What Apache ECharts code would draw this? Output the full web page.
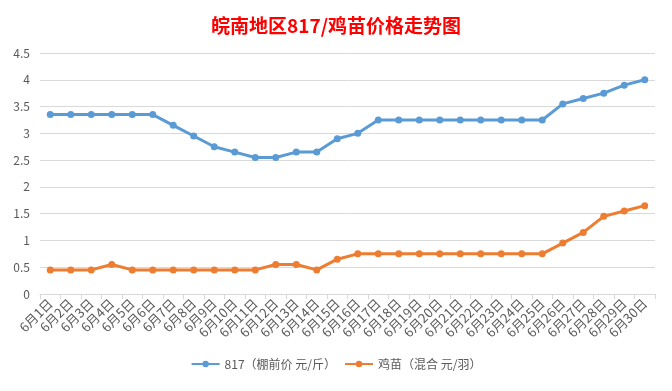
<!DOCTYPE html>
<html><head><meta charset="utf-8">
<script src="https://cdn.jsdelivr.net/npm/echarts@6/dist/echarts.min.js"></script>
<style>html,body{margin:0;padding:0;background:#fff}#c{width:672px;height:391px}</style>
</head><body><div id="c"></div>
<script>
const categories = ['6月1日','6月2日','6月3日','6月4日','6月5日','6月6日','6月7日','6月8日','6月9日','6月10日','6月11日','6月12日','6月13日','6月14日','6月15日','6月16日','6月17日','6月18日','6月19日','6月20日','6月21日','6月22日','6月23日','6月24日','6月25日','6月26日','6月27日','6月28日','6月29日','6月30日'];
const s817 = [3.35,3.35,3.35,3.35,3.35,3.35,3.15,2.95,2.75,2.65,2.55,2.55,2.65,2.65,2.9,3.0,3.25,3.25,3.25,3.25,3.25,3.25,3.25,3.25,3.25,3.55,3.65,3.75,3.9,4.0];
const sChick = [0.45,0.45,0.45,0.55,0.45,0.45,0.45,0.45,0.45,0.45,0.45,0.55,0.55,0.45,0.65,0.75,0.75,0.75,0.75,0.75,0.75,0.75,0.75,0.75,0.75,0.95,1.15,1.45,1.55,1.65];
const seriesNames = ['817（棚前价 元/斤）','鸡苗（混合 元/羽）'];
const titleText = '皖南地区817/鸡苗价格走势图';
const chart = echarts.init(document.getElementById('c'));
const font = 'Microsoft YaHei, "Noto Sans CJK SC", sans-serif';
chart.setOption({
  animation:false,
  backgroundColor:'#fff',
  title:{text:titleText,left:'center',top:11,textStyle:{color:'#FF0000',fontSize:19,fontWeight:'bold',fontFamily:font}},
  legend:{bottom:16,left:'center',itemWidth:28,itemHeight:8,itemGap:8,textStyle:{color:'#595959',fontSize:12,fontFamily:font},data:seriesNames},
  grid:{left:40,right:17,top:53,bottom:97},
  xAxis:{type:'category',data:categories,boundaryGap:true,
    axisLine:{lineStyle:{color:'#d9d9d9'}},
    axisTick:{show:true,alignWithLabel:false,length:5,lineStyle:{color:'#d9d9d9'}},
    axisLabel:{rotate:45,interval:0,color:'#595959',fontSize:13,fontFamily:font,margin:7}},
  yAxis:{type:'value',min:0,max:4.5,interval:0.5,
    axisLine:{show:false},axisTick:{show:false},
    axisLabel:{color:'#595959',fontSize:12,fontFamily:font,margin:10},
    splitLine:{lineStyle:{color:'#d9d9d9'}}},
  series:[
    {name:seriesNames[0],type:'line',data:s817,symbol:'circle',symbolSize:7,itemStyle:{color:'#5B9BD5'},lineStyle:{width:3,color:'#5B9BD5'}},
    {name:seriesNames[1],type:'line',data:sChick,symbol:'circle',symbolSize:7,itemStyle:{color:'#ED7D31'},lineStyle:{width:3,color:'#ED7D31'}}
  ]
});
</script></body></html>
